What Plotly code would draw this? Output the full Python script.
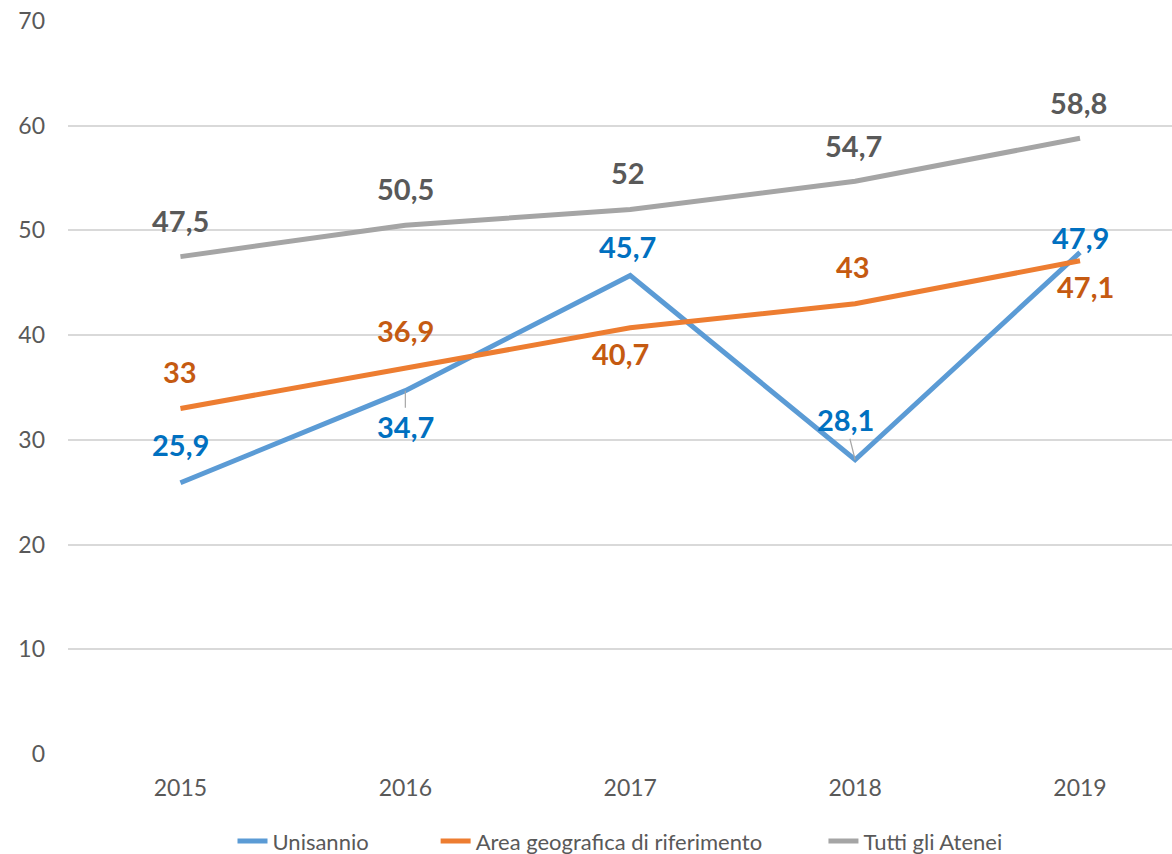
import plotly.graph_objects as go

years = ["2015", "2016", "2017", "2018", "2019"]
unisannio = [25.9, 34.7, 45.7, 28.1, 47.9]
area = [33, 36.9, 40.7, 43, 47.1]
tutti = [47.5, 50.5, 52, 54.7, 58.8]

series = [
    ("Unisannio", unisannio, "#5B9BD5", "#0070C0"),
    ("Area geografica di riferimento", area, "#ED7D31", "#C55A11"),
    ("Tutti gli Atenei", tutti, "#A5A5A5", "#595959"),
]
legend_pad = {"Unisannio": 11, "Area geografica di riferimento": 10, "Tutti gli Atenei": 0}

# label offsets in pixels (ax, ay) and whether a leader line is shown
offsets = {
    "Unisannio": [(0, -38, False), (0, 36, True), (-3, -29, False), (-10, -40, True), (0, -15, False)],
    "Area geografica di riferimento": [(0, -37, False), (0, -37, False), (-10, 26, False), (-2, -37, False), (5, 26, False)],
    "Tutti gli Atenei": [(0, -36, False), (0, -37, False), (-2, -37, False), (-2, -36, False), (-2, -36, False)],
}

FONT = "Lato"

fig = go.Figure()
annotations = []
for name, vals, color, lcolor in series:
    fig.add_trace(go.Scatter(
        x=years, y=vals, mode="lines", name=name + "&nbsp;" * legend_pad[name],
        line=dict(color=color, width=5),
    ))
    for i, (v, (ax, ay, leader)) in enumerate(zip(vals, offsets[name])):
        label = ("%g" % v).replace(".", ",")
        annotations.append(dict(
            x=i, y=v, xref="x", yref="y", text="<b>%s</b>" % label,
            showarrow=True, ax=ax, ay=ay, axref="pixel", ayref="pixel",
            arrowhead=0, arrowwidth=1.2,
            arrowcolor="#A6A6A6" if leader else "rgba(0,0,0,0)",
            standoff=0, startstandoff=0,
            font=dict(family=FONT, size=29, color=lcolor),
        ))

fig.update_layout(
    width=1172, height=854,
    margin=dict(l=68, r=0, t=21, b=100, autoexpand=False),
    paper_bgcolor="white", plot_bgcolor="white",
    font=dict(family=FONT, size=22, color="#595959"),
    showlegend=True,
    legend=dict(orientation="h", x=0.5, xanchor="center", xref="paper",
                y=0.015, yanchor="middle", yref="container",
                font=dict(family=FONT, size=22, color="#595959"),
                traceorder="normal"),
    annotations=annotations,
    xaxis=dict(
        type="category", range=[-0.5, 4.409], showgrid=False, showline=False,
        zeroline=False, ticks="", ticklabelstandoff=18,
        tickfont=dict(family=FONT, size=23, color="#595959"),
    ),
    yaxis=dict(
        range=[0, 70], dtick=10, showgrid=True, gridcolor="#D9D9D9", gridwidth=1.5,
        zeroline=False, showline=False, ticks="", ticklabelstandoff=22,
        tickfont=dict(family=FONT, size=23, color="#595959"),
    ),
)

fig.write_html("out.html")
